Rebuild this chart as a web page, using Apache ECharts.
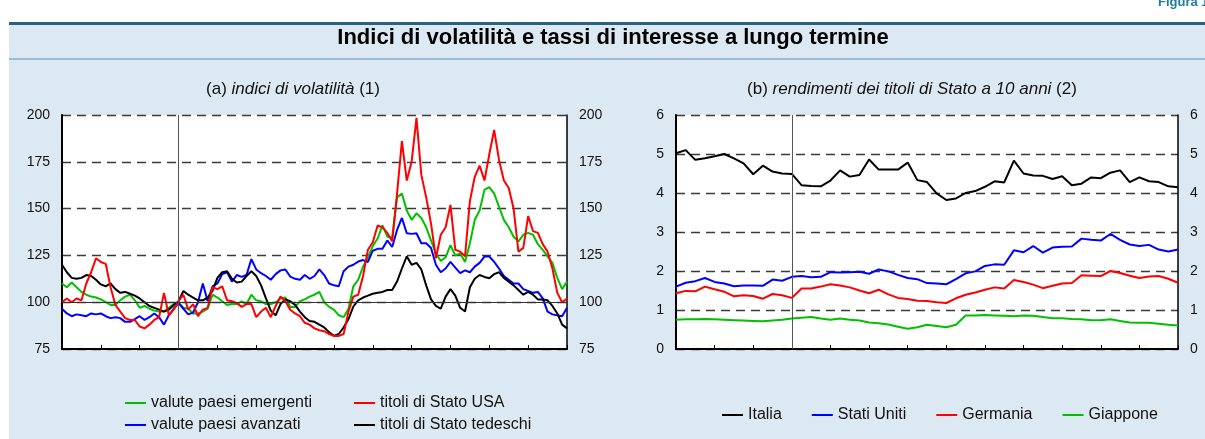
<!DOCTYPE html>
<html>
<head>
<meta charset="utf-8">
<script src="https://cdn.jsdelivr.net/npm/echarts@6/dist/echarts.min.js"></script>
<style>
html, body { margin: 0; padding: 0; background: #fff; }
#wrap { position: relative; width: 1205px; height: 439px; overflow: hidden; background: #fff; }
#panel { position: absolute; left: 9px; top: 24px; width: 1196px; height: 415px; background: #dce9f2; }
#rule1 { position: absolute; left: 9px; top: 22px; width: 1196px; height: 3px; background: #27627f; }
#rule2 { position: absolute; left: 9px; top: 58px; width: 1196px; height: 2px; background: #9dbdd2; }
#chart { position: absolute; left: 0; top: 0; width: 1205px; height: 439px; }
</style>
</head>
<body>
<div id="wrap">
  <div id="panel"></div>
  <div id="rule1"></div>
  <div id="rule2"></div>
  <div id="chart"></div>
</div>
<script>
// mesi coperti dai due grafici (ott 2012 - ott 2013)
const months = ['2012-10', '2012-11', '2012-12', '2013-01', '2013-02', '2013-03', '2013-04',
  '2013-05', '2013-06', '2013-07', '2013-08', '2013-09', '2013-10'];
const daysA = ['01', '05', '09', '13', '16', '20', '24', '28'];
const daysB = ['01', '08', '16', '24'];
const datesA = months.flatMap(m => daysA.map(d => m + '-' + d)).concat(['2013-10-31']);
const datesB = months.flatMap(m => daysB.map(d => m + '-' + d)).concat(['2013-10-31']);
const yearLabels = { '2012-11-16': '2012', '2013-05-16': '2013' };
const yearStart = '2013-01-01';

// (a) indici di volatilità
const emergenti = [110, 108, 110.5, 108, 105.5, 104, 103, 102.5, 101.5, 100, 98.5, 98.5, 101, 103, 104, 101,
  97, 98, 96.5, 95.5, 95, 95, 97, 99, 100, 97, 96.5, 94, 94,
  95, 96.5, 104, 102.5, 100.5, 98.5, 99, 99, 100.5, 99, 104, 101, 100.5, 99, 99, 100, 102, 102.5,
  97.5, 97.5, 100.5, 101.5, 103, 104, 105.5, 100, 97.5, 96, 93, 92,
  96.5, 108.5, 112, 119, 124, 130, 134, 141, 135, 134.5, 156, 158, 149, 144, 147.5, 145, 140, 133,
  126, 122, 124, 130.5, 125, 126, 121.5, 131.5, 144, 149, 160, 161.5, 158,
  151, 144, 140, 135, 132.5, 136, 137, 136, 131, 128, 124.5, 121, 113, 107, 111];
const usa = [100, 102, 100, 102, 101, 110, 116, 123.5, 121.5, 120.5, 108, 98.5, 95, 91.5, 90.5, 90.5,
  87, 86, 88, 90.5, 92, 105, 93, 96, 100.5, 104, 96, 99, 92.5,
  96, 97, 108, 107, 108.5, 101, 100.5, 99.5, 97.5, 99, 99, 92, 95, 97, 92, 98, 103, 100.5,
  96, 94, 92.5, 89, 88, 86, 85, 84.5, 83, 82, 82, 83,
  95, 103, 104, 114, 128, 132, 141, 140, 137, 132.5, 158, 186, 165, 175, 198.5, 168, 156, 142,
  123.5, 136, 140, 152, 128, 127, 124.5, 154, 167, 173, 165, 179, 192,
  176, 165, 161, 150, 127, 129, 146, 138, 137, 131, 127, 118, 105, 100, 102];
const avanzati = [96.5, 94, 92.5, 93.5, 93, 92.5, 94, 93.5, 94, 92.5, 91.5, 92, 91.5, 89.5, 89.5, 91,
  92.5, 90.5, 92, 94, 92, 88, 93, 96.5, 99.5, 96.5, 93.5, 94.5, 100,
  110, 100.5, 108.5, 110, 115, 116, 111, 114.5, 113.5, 114.5, 123, 117.5, 115.5, 114, 112, 115, 117,
  117.5, 113.7, 112.5, 112, 114.5, 112.5, 114, 117.5, 114.5, 110, 109, 108.5, 116.5,
  119, 120, 121.7, 122.5, 121.5, 127.5, 128.5, 128.5, 133, 129.5, 138.6, 145, 136.8, 136.5, 136.8,
  131.5, 131.5, 129, 120, 116, 118, 121.5, 118.5, 115.5, 117, 116, 119, 121, 124.4, 124.4, 121.5,
  118, 114, 112, 110, 110, 107, 106, 105, 105.5, 102, 95, 93.5, 93, 92.5, 97];
const tedeschi = [120, 116, 113, 112.5, 113, 114.5, 114, 112, 109.5, 108.5, 110, 107, 105, 105.5, 104.5,
  103.5, 102, 100, 98, 97, 96, 95, 96, 98.5, 100.5, 106, 104, 102.5, 101,
  101, 102.5, 106, 113, 116, 116.5, 112.5, 110.5, 111, 114, 116.5, 114, 109, 102, 95.5, 93, 99,
  101.5, 100.5, 98.6, 95, 92, 90, 89.5, 88, 86.5, 84, 82, 83, 86.5,
  91, 97.7, 101, 102.5, 103.5, 104.5, 105, 105.5, 106.5, 106.5, 111, 118, 124.5, 120, 121, 117.5,
  109, 101.5, 98, 96.5, 103, 107, 103.5, 97, 95, 108, 112.5, 114.5, 113.5, 112.8, 115,
  116, 113, 111, 109, 106.5, 104, 105.5, 104, 101.5, 101.5, 101, 98, 94, 88, 86];

// (b) rendimenti dei titoli di Stato a 10 anni
const italia = [5.02, 5.1, 4.85, 4.89, 4.94, 5.0, 4.89, 4.76, 4.48, 4.7, 4.55, 4.5, 4.49, 4.2,
  4.18, 4.17, 4.32, 4.58, 4.42, 4.46, 4.86, 4.6, 4.6, 4.6, 4.78, 4.33, 4.28, 3.99, 3.82,
  3.86, 4.0, 4.05, 4.16, 4.3, 4.27, 4.83, 4.5, 4.45, 4.44, 4.36, 4.43, 4.2, 4.24, 4.4, 4.38,
  4.52, 4.58, 4.28, 4.4, 4.3, 4.28, 4.17, 4.15];
const statiUniti = [1.6, 1.7, 1.74, 1.82, 1.72, 1.68, 1.61, 1.63, 1.63, 1.62, 1.78, 1.75, 1.85, 1.87,
  1.84, 1.85, 1.97, 1.96, 1.97, 1.98, 1.93, 2.04, 1.99, 1.9, 1.82, 1.79, 1.69, 1.68, 1.66,
  1.79, 1.94, 1.99, 2.13, 2.17, 2.16, 2.53, 2.48, 2.64, 2.47, 2.6, 2.62, 2.63, 2.83, 2.8, 2.78,
  2.95, 2.8, 2.68, 2.64, 2.67, 2.55, 2.5, 2.55];
const germania = [1.43, 1.49, 1.48, 1.6, 1.53, 1.47, 1.35, 1.38, 1.36, 1.29, 1.41, 1.38, 1.31, 1.55,
  1.55, 1.6, 1.66, 1.63, 1.58, 1.5, 1.43, 1.52, 1.4, 1.31, 1.28, 1.24, 1.23, 1.2, 1.18,
  1.3, 1.39, 1.45, 1.52, 1.58, 1.55, 1.77, 1.72, 1.65, 1.56, 1.62, 1.68, 1.69, 1.89, 1.88, 1.87,
  2.0, 1.95, 1.88, 1.82, 1.86, 1.87, 1.8, 1.7];
const giappone = [0.75, 0.76, 0.76, 0.77, 0.76, 0.75, 0.74, 0.73, 0.72, 0.71, 0.73, 0.75, 0.78, 0.8,
  0.82, 0.78, 0.75, 0.78, 0.75, 0.73, 0.68, 0.66, 0.63, 0.57, 0.52, 0.56, 0.62, 0.59, 0.56,
  0.62, 0.86, 0.86, 0.87, 0.86, 0.85, 0.84, 0.86, 0.85, 0.82, 0.79, 0.79, 0.77, 0.76, 0.74, 0.74,
  0.76, 0.72, 0.68, 0.67, 0.67, 0.65, 0.62, 0.6];

const FONT = '"Liberation Sans", Arial, Helvetica, sans-serif';
const GREEN = '#00c000', RED = '#ff0000', BLUE = '#0000ff', BLACK = '#000000';

function xAxis(gridIndex, dates, perMonth) {
  return {
    type: 'category', gridIndex: gridIndex, data: dates, boundaryGap: false,
    axisLine: { lineStyle: { color: '#000', width: 2 } },
    axisTick: { inside: true, length: 4, interval: perMonth - 1, lineStyle: { color: '#000', width: 1 } },
    axisLabel: {
      interval: (i, v) => v in yearLabels,
      formatter: v => yearLabels[v] || '',
      showMinLabel: false, showMaxLabel: false,
      color: '#111', fontSize: 14, fontFamily: FONT, margin: 10
    },
    splitLine: { show: false }
  };
}

function yAxis(gridIndex, min, max, interval, position) {
  return {
    type: 'value', gridIndex: gridIndex, min: min, max: max, interval: interval, position: position,
    axisLine: { show: true, lineStyle: { color: '#000', width: position === 'left' ? 2 : 1.5 } },
    axisTick: { show: false },
    axisLabel: { color: '#111', fontSize: 14, fontFamily: FONT, margin: 12 },
    splitLine: { show: position === 'left', lineStyle: { color: '#3a3a3a', type: [9, 6], width: 1.4 } }
  };
}

function line(name, data, color, xi, yi) {
  return {
    name: name, type: 'line', xAxisIndex: xi, yAxisIndex: yi, data: data, z: 3,
    symbol: 'none', showSymbol: false, animation: false,
    lineStyle: { color: color, width: 2 }, itemStyle: { color: color }
  };
}

function refLines(xi, yi, extra) {
  return {
    type: 'line', xAxisIndex: xi, yAxisIndex: yi, data: [], z: 2, animation: false,
    markLine: {
      symbol: 'none', silent: true, animation: false, label: { show: false },
      data: [{ xAxis: yearStart, lineStyle: { color: '#555', width: 1, type: 'solid' } }].concat(extra)
    }
  };
}

const legendCommon = {
  icon: 'rect', itemWidth: 21, itemHeight: 2, selectedMode: false, padding: 0,
  textStyle: { color: '#111', fontSize: 16, lineHeight: 16, fontFamily: FONT }
};

const subStyle = { fontSize: 17, fontFamily: FONT, fill: '#111', color: '#111' };

const option = {
  backgroundColor: 'transparent',
  animation: false,
  grid: [
    { left: 62, top: 115, width: 505, height: 234, show: true, backgroundColor: '#fff', borderWidth: 0 },
    { left: 676, top: 115, width: 502, height: 234, show: true, backgroundColor: '#fff', borderWidth: 0 }
  ],
  xAxis: [xAxis(0, datesA, daysA.length), xAxis(1, datesB, daysB.length)],
  yAxis: [
    yAxis(0, 75, 200, 25, 'left'), yAxis(0, 75, 200, 25, 'right'),
    yAxis(1, 0, 6, 1, 'left'), yAxis(1, 0, 6, 1, 'right')
  ],
  legend: [
    Object.assign({ left: 125, top: 395, orient: 'vertical', itemGap: 6,
      data: ['valute paesi emergenti', 'valute paesi avanzati'] }, legendCommon),
    Object.assign({ left: 354, top: 395, orient: 'vertical', itemGap: 6,
      data: ['titoli di Stato USA', 'titoli di Stato tedeschi'] }, legendCommon),
    Object.assign({ left: 722, top: 407, orient: 'horizontal', itemGap: 30,
      data: ['Italia', 'Stati Uniti', 'Germania', 'Giappone'] }, legendCommon)
  ],
  graphic: [
    { type: 'text', x: 1158, y: 9, silent: true,
      style: { text: 'Figura 1.1', fill: '#1f7d9c', font: 'bold 13px ' + FONT, align: 'left', verticalAlign: 'bottom', textAlign: 'left', textVerticalAlign: 'bottom' } },
    { type: 'text', x: 613, y: 38, silent: true,
      style: { text: 'Indici di volatilità e tassi di interesse a lungo termine', fill: '#000',
        font: 'bold 22px ' + FONT, align: 'center', verticalAlign: 'middle', textAlign: 'center', textVerticalAlign: 'middle' } },
    { type: 'text', x: 293, y: 89, silent: true,
      style: { text: '{n|(a) }{i|indici di volatilità}{n| (1)}', align: 'center', verticalAlign: 'middle',
        textAlign: 'center', textVerticalAlign: 'middle',
        rich: { n: subStyle, i: Object.assign({ fontStyle: 'italic' }, subStyle) } } },
    { type: 'text', x: 912, y: 89, silent: true,
      style: { text: '{n|(b) }{i|rendimenti dei titoli di Stato a 10 anni}{n| (2)}', align: 'center', verticalAlign: 'middle',
        textAlign: 'center', textVerticalAlign: 'middle',
        rich: { n: subStyle, i: Object.assign({ fontStyle: 'italic' }, subStyle) } } }
  ],
  series: [
    refLines(0, 0, [{ yAxis: 100, lineStyle: { color: '#333', width: 1, type: 'solid' } }]),
    line('valute paesi emergenti', emergenti, GREEN, 0, 0),
    line('valute paesi avanzati', avanzati, BLUE, 0, 0),
    line('titoli di Stato tedeschi', tedeschi, BLACK, 0, 0),
    line('titoli di Stato USA', usa, RED, 0, 0),
    refLines(1, 2, []),
    line('Giappone', giappone, GREEN, 1, 2),
    line('Germania', germania, RED, 1, 2),
    line('Stati Uniti', statiUniti, BLUE, 1, 2),
    line('Italia', italia, BLACK, 1, 2)
  ]
};

const chart = echarts.init(document.getElementById('chart'), null, { renderer: 'canvas' });
chart.setOption(option);
window.addEventListener('resize', () => chart.resize());
</script>
</body>
</html>
